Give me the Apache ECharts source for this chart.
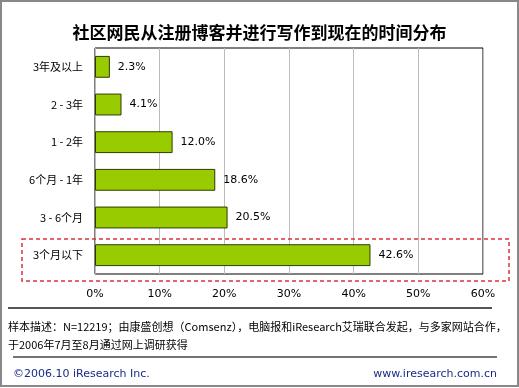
<!DOCTYPE html>
<html><head><meta charset="utf-8">
<script src="https://cdn.jsdelivr.net/npm/echarts@6/dist/echarts.min.js"></script>
<style>html,body{margin:0;padding:0;background:#fff}#c{width:519px;height:388px}</style>
</head><body><div id="c"></div>
<script>
const categories = ['3年及以上', '2 - 3年', '1 - 2年', '6个月 - 1年', '3 - 6个月', '3个月以下'];
const values = [2.3, 4.1, 12.0, 18.6, 20.5, 42.6];
const xTicks = [0, 10, 20, 30, 40, 50, 60];
const titleText = '社区网民从注册博客并进行写作到现在的时间分布';
const noteLine1 = '样本描述：N=12219；由康盛创想（Comsenz），电脑报和iResearch艾瑞联合发起，与多家网站合作，';
const noteLine2 = '于2006年7月至8月通过网上调研获得';
const footerLeft = '©2006.10 iResearch Inc.';
const footerRight = 'www.iresearch.com.cn';

const chart = echarts.init(document.getElementById('c'));
const cjk = '"Noto Sans CJK SC", "DejaVu Sans", sans-serif';
chart.setOption({
  animation: false,
  backgroundColor: '#fff',
  title: {
    text: titleText, left: 'center', top: 19,
    textStyle: { fontFamily: cjk, fontSize: 17, fontWeight: 'bold', color: '#000' }
  },
  grid: { left: 95, right: 36, top: 48, bottom: 114, show: true, borderColor: '#000', borderWidth: 1 },
  xAxis: {
    type: 'value', min: xTicks[0], max: xTicks[xTicks.length - 1], interval: 10,
    axisLine: { show: false }, axisTick: { show: false },
    splitLine: { lineStyle: { color: '#bbb', width: 1 } },
    axisLabel: { formatter: v => v + '%', color: '#000', fontSize: 11, margin: 15, fontFamily: 'DejaVu Sans' }
  },
  yAxis: {
    type: 'category', data: categories, inverse: true,
    axisLine: { show: false }, axisTick: { show: false },
    axisLabel: { color: '#000', fontSize: 11, margin: 12, fontFamily: cjk }
  },
  series: [{
    type: 'bar', data: values, barCategoryGap: '42%',
    itemStyle: { color: '#99cc00', borderColor: '#2d3d00', borderWidth: 1 },
    label: {
      show: true, position: 'right', distance: 8, color: '#000', fontSize: 11, fontFamily: 'DejaVu Sans',
      formatter: p => p.value.toFixed(1) + '%'
    }
  }],
  graphic: [
    { type: 'rect', shape: { x: 1, y: 1, width: 517, height: 385 }, style: { fill: null, stroke: '#888', lineWidth: 2 }, silent: true },
    { type: 'rect', shape: { x: 22, y: 239, width: 487, height: 42 }, style: { fill: null, stroke: '#e0303a', lineWidth: 1.5, lineDash: [4, 3] }, z: 10, silent: true },
    { type: 'line', shape: { x1: 8, y1: 308, x2: 492, y2: 308 }, style: { stroke: '#555', lineWidth: 2 } },
    { type: 'text', left: 8, top: 321, style: { text: noteLine1, font: '11px ' + cjk, fill: '#000' } },
    { type: 'text', left: 8, top: 339, style: { text: noteLine2, font: '11px ' + cjk, fill: '#000' } },
    { type: 'line', shape: { x1: 13, y1: 357, x2: 497, y2: 357 }, style: { stroke: '#444', lineWidth: 1.5 } },
    { type: 'text', left: 13, top: 369, style: { text: footerLeft, font: '11px "DejaVu Sans", sans-serif', fill: '#1a2a8a' } },
    { type: 'text', right: 22, top: 369, style: { text: footerRight, font: '11px "DejaVu Sans", sans-serif', fill: '#1a2a8a' } }
  ]
});
</script></body></html>
